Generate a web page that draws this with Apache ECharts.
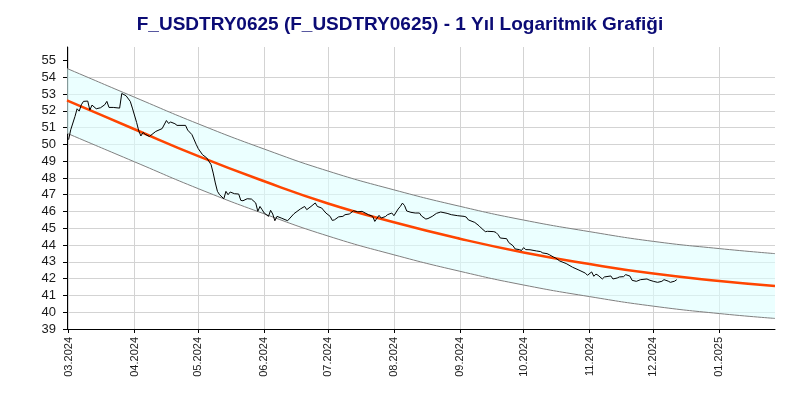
<!DOCTYPE html>
<html>
<head>
<meta charset="utf-8">
<script src="https://cdn.jsdelivr.net/npm/echarts@6/dist/echarts.min.js"></script>
<style>html,body{margin:0;padding:0;background:#fff}#c{width:800px;height:400px}</style>
</head>
<body>
<div id="c"></div>
<script>
const titleText = 'F_USDTRY0625 (F_USDTRY0625) - 1 Yıl Logaritmik Grafiği';
const xMin = '2024-02-29 06:00';
const xMax = '2025-01-27 05:00';
const monthTicks = ['2024-03-01','2024-04-01','2024-05-01','2024-06-01','2024-07-01','2024-08-01','2024-09-01','2024-10-01','2024-11-01','2024-12-01','2025-01-01'];
const yTicks = [39,40,41,42,43,44,45,46,47,48,49,50,51,52,53,54,55];

const priceDates = ['2024-03-01','2024-03-02','2024-03-04','2024-03-05','2024-03-06','2024-03-07','2024-03-08','2024-03-10','2024-03-11','2024-03-12','2024-03-14','2024-03-16','2024-03-18','2024-03-19','2024-03-20','2024-03-22','2024-03-25','2024-03-26','2024-03-28','2024-03-30','2024-03-31',
'2024-04-02','2024-04-03','2024-04-04','2024-04-05','2024-04-06','2024-04-08','2024-04-11','2024-04-14','2024-04-16','2024-04-17','2024-04-18','2024-04-20','2024-04-21','2024-04-25','2024-04-26','2024-04-28','2024-04-30',
'2024-05-01','2024-05-03','2024-05-05','2024-05-07','2024-05-08','2024-05-09','2024-05-10','2024-05-11','2024-05-13','2024-05-14','2024-05-15','2024-05-16','2024-05-18','2024-05-20','2024-05-21','2024-05-22','2024-05-24','2024-05-26','2024-05-28','2024-05-29','2024-05-30','2024-05-31',
'2024-06-01','2024-06-03','2024-06-04','2024-06-05','2024-06-06','2024-06-07','2024-06-09','2024-06-12','2024-06-15','2024-06-18','2024-06-20','2024-06-21','2024-06-23','2024-06-25','2024-06-26','2024-06-28','2024-06-30',
'2024-07-02','2024-07-03','2024-07-04','2024-07-06','2024-07-08','2024-07-09','2024-07-11','2024-07-13','2024-07-15','2024-07-17','2024-07-20','2024-07-22','2024-07-23','2024-07-25','2024-07-26','2024-07-28','2024-07-29','2024-07-31',
'2024-08-01','2024-08-03','2024-08-04','2024-08-05','2024-08-06','2024-08-07','2024-08-09','2024-08-11','2024-08-13','2024-08-14','2024-08-16','2024-08-17','2024-08-19','2024-08-21','2024-08-23','2024-08-26','2024-08-28','2024-08-31',
'2024-09-03','2024-09-04','2024-09-05','2024-09-08','2024-09-10','2024-09-11','2024-09-13','2024-09-14','2024-09-17','2024-09-18','2024-09-19','2024-09-20','2024-09-23','2024-09-24','2024-09-26','2024-09-27','2024-09-29','2024-09-30',
'2024-10-01','2024-10-02','2024-10-04','2024-10-07','2024-10-09','2024-10-10','2024-10-12','2024-10-13','2024-10-15','2024-10-16','2024-10-18','2024-10-21','2024-10-24','2024-10-27','2024-10-30','2024-10-31',
'2024-11-02','2024-11-03','2024-11-04','2024-11-05','2024-11-07','2024-11-08','2024-11-11','2024-11-12','2024-11-14','2024-11-15','2024-11-17','2024-11-18','2024-11-20','2024-11-21','2024-11-23','2024-11-25','2024-11-28','2024-11-29',
'2024-12-01','2024-12-03','2024-12-05','2024-12-06','2024-12-08','2024-12-09','2024-12-11','2024-12-12'];
const priceValues = [50.28,50.87,51.66,52.12,51.98,52.36,52.56,52.58,52.04,52.34,52.12,52.18,52.36,52.56,52.20,52.20,52.16,53.03,52.90,52.56,52.16,
51.30,50.80,50.50,50.71,50.60,50.47,50.77,50.94,51.42,51.25,51.33,51.23,51.13,51.13,50.85,50.58,50.00,
49.74,49.38,49.19,48.79,48.29,47.70,47.20,47.00,46.76,47.20,47.00,47.16,47.06,47.04,46.66,46.64,46.76,46.74,46.51,46.01,46.30,46.11,
45.91,45.71,46.07,45.85,45.45,45.71,45.61,45.45,45.87,46.15,46.30,46.11,46.30,46.51,46.30,46.21,45.91,
45.71,45.47,45.50,45.68,45.71,45.81,45.85,46.04,45.98,46.01,45.81,45.71,45.41,45.77,45.61,45.70,45.81,45.91,
45.75,46.15,46.30,46.50,46.35,46.03,45.95,45.91,45.91,45.73,45.55,45.58,45.71,45.89,45.97,45.89,45.81,45.75,
45.71,45.67,45.50,45.35,45.15,45.02,44.80,44.82,44.80,44.75,44.62,44.42,44.38,44.15,43.96,43.77,43.73,43.68,
43.85,43.73,43.72,43.65,43.61,43.53,43.49,43.43,43.29,43.23,43.05,42.90,42.68,42.51,42.33,42.20,
42.40,42.14,42.27,42.20,41.98,42.10,42.16,41.98,42.04,42.10,42.12,42.24,42.15,41.90,41.84,41.94,41.98,41.92,
41.84,41.78,41.84,41.94,41.85,41.78,41.85,41.94];

const channelDates = ['2024-02-29 06:00','2024-03-01','2024-04-01','2024-05-01','2024-06-01','2024-07-01','2024-08-01','2024-09-01','2024-10-01','2024-11-01','2024-12-01','2025-01-01','2025-01-27 05:00'];
const trendValues = [52.62,52.58,50.90,49.30,47.80,46.48,45.36,44.38,43.56,42.87,42.30,41.86,41.56];
const upperValues = [54.52,54.48,52.81,51.22,49.72,48.41,47.29,46.31,45.49,44.80,44.22,43.79,43.49];
const lowerValues = [50.66,50.62,48.96,47.36,45.86,44.54,43.42,42.44,41.62,40.93,40.36,39.92,39.63];

function ts(s) { return echarts.number.parseDate(s).getTime(); }
function pairs(ds, vs) { return ds.map((d, i) => [ts(d), vs[i]]); }
const monthTs = monthTicks.map(ts);
const channelTs = channelDates.map(ts);
const pad = n => (n < 10 ? '0' : '') + n;

const chart = echarts.init(document.getElementById('c'), null, {renderer: 'canvas'});
const FONT = 'Arial, "Liberation Sans", sans-serif';
chart.setOption({
  animation: false,
  backgroundColor: '#fff',
  title: {
    text: titleText, left: 'center', top: 10,
    textStyle: {fontSize: 19, fontWeight: 'bold', color: '#0b0b75', fontFamily: FONT}
  },
  grid: {left: 67, right: 25, top: 47, bottom: 71},
  xAxis: {
    type: 'value', min: ts(xMin), max: ts(xMax), scale: true,
    axisLine: {show: true, lineStyle: {color: '#000', width: 1}},
    axisTick: {show: true, customValues: monthTs, length: 4, lineStyle: {color: '#000'}},
    axisLabel: {
      customValues: monthTs, rotate: 90, fontSize: 11, color: '#1a1a1a', fontFamily: FONT, margin: 8,
      formatter: v => { const d = new Date(v); return pad(d.getMonth() + 1) + '.' + d.getFullYear(); }
    },
    splitLine: {show: false}
  },
  yAxis: {
    type: 'value', min: 39, max: 55.8, interval: 1,
    axisLine: {show: true, lineStyle: {color: '#000', width: 1}},
    axisTick: {show: true, customValues: yTicks, length: 4, lineStyle: {color: '#000'}},
    axisLabel: {customValues: yTicks, fontSize: 13, color: '#1a1a1a', fontFamily: FONT, margin: 11},
    splitLine: {show: true, showMinLine: false, showMaxLine: false, lineStyle: {color: '#d3d3d3', width: 1}}
  },
  series: [
    {
      type: 'line', name: 'grid', data: [], symbol: 'none', z: 0,
      markLine: {
        silent: true, symbol: 'none', z: 0, animation: false,
        label: {show: false},
        lineStyle: {color: '#d3d3d3', width: 1, type: 'solid'},
        emphasis: {disabled: true},
        data: monthTs.map(t => ({xAxis: t}))
      }
    },
    {
      type: 'custom', name: 'band', z: 1, clip: true, silent: true,
      data: pairs(channelDates, upperValues),
      encode: {x: 0, y: 1},
      renderItem: (params, api) => {
        if (params.dataIndexInside !== 0) return null;
        const pts = [];
        for (let i = 0; i < channelTs.length; i++) pts.push(api.coord([channelTs[i], upperValues[i]]));
        for (let i = channelTs.length - 1; i >= 0; i--) pts.push(api.coord([channelTs[i], lowerValues[i]]));
        return {type: 'polygon', shape: {points: pts}, style: {fill: 'rgba(222,255,255,0.6)', stroke: null}};
      }
    },
    {
      type: 'line', name: 'lower', smooth: true, symbol: 'none',
      data: pairs(channelDates, lowerValues),
      lineStyle: {color: '#808080', width: 1}, z: 2
    },
    {
      type: 'line', name: 'upper', smooth: true, symbol: 'none',
      data: pairs(channelDates, upperValues),
      lineStyle: {color: '#808080', width: 1}, z: 2
    },
    {
      type: 'line', name: 'trend', smooth: true, symbol: 'none',
      data: pairs(channelDates, trendValues),
      lineStyle: {color: '#ff4500', width: 2.5}, z: 3
    },
    {
      type: 'line', name: 'price', symbol: 'none',
      data: pairs(priceDates, priceValues),
      lineStyle: {color: '#000', width: 1}, z: 4
    }
  ]
});
</script>
</body>
</html>
